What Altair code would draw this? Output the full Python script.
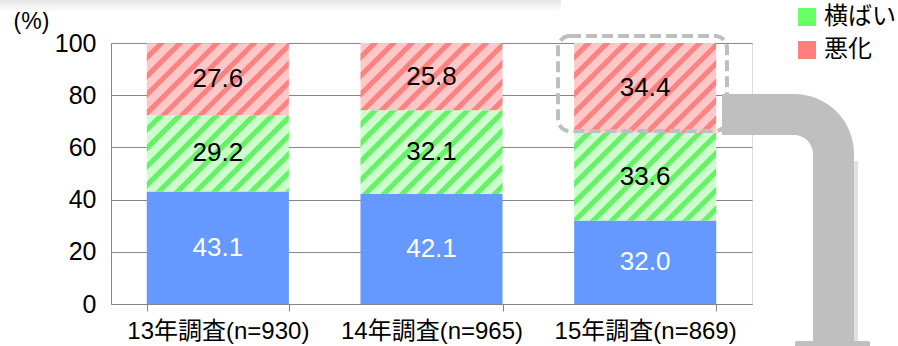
import math
import altair as alt
import pandas as pd

# Survey rounds and shares (%) of each answer
categories = ["13年調査(n=930)", "14年調査(n=965)", "15年調査(n=869)"]
series = ["改善", "横ばい", "悪化"]
improved = [43.1, 42.1, 32.0]
flat = [29.2, 32.1, 33.6]
worse = [27.6, 25.8, 34.4]
y_ticks = [0, 20, 40, 60, 80, 100]

# Styling
FONT = "Liberation Sans, Arial, Noto Sans CJK JP"
GRAY = "#868686"
BLUE = "#6699FF"
GREEN_LIGHT, GREEN_DARK = "#CCFFCC", "#66F266"
RED_LIGHT, RED_DARK = "#FFC8C8", "#FF8282"
LEGEND_COLORS = [BLUE, "#66FF66", "#FF7F7F"]
DECO = "#BFBFBF"

W, H = 641, 261
PAD = {"left": 111, "top": 43, "right": 146, "bottom": 42}
P_INNER = 0.335
P_OUTER = P_INNER / 2
STEP = W / (len(categories) - P_INNER + 2 * P_OUTER)
BAR_W = STEP * (1 - P_INNER)
STRIPE = 18.5  # horizontal period of the diagonal hatching, px

rows = []
for i, cat in enumerate(categories):
    base = 0.0
    for name, vals in zip(series, [improved, flat, worse]):
        v = vals[i]
        rows.append({"cat": cat, "series": name, "v": v,
                     "y0": base, "y1": base + v, "mid": base + v / 2})
        base += v
df = pd.DataFrame(rows)


def hatch(light, dark, value):
    """Diagonal '/' stripes as a hard-stop linear gradient for one segment."""
    w = BAR_W
    h = value / 100 * H
    s = (w + h) / (w * w + h * h)
    n = (w + h) / STRIPE
    stops = []
    k = 0
    while k < n:
        for off, col in [(k + 0.02, light), (k + 0.56, light),
                         (k + 0.62, dark), (k + 0.94, dark)]:
            o = min(off / n, 1.0)
            stops.append(alt.GradientStop(offset=o, color=col))
        k += 1
    return alt.LinearGradient(gradient="linear", stops=stops,
                              x1=0, y1=0, x2=s * w, y2=s * h)


x_enc = alt.X("cat:N", sort=categories, title=None,
              scale=alt.Scale(paddingInner=P_INNER, paddingOuter=P_OUTER),
              axis=alt.Axis(labelAngle=0, labelFontSize=24, labelPadding=8,
                            labelLimit=0,
                            tickBand="extent", ticks=True, tickSize=7,
                            tickColor=GRAY, domainColor=GRAY, labelColor="#000",
                            labelFont=FONT))
y_scale = alt.Scale(domain=[0, 100], nice=False)
y_enc = alt.Y("y0:Q", scale=y_scale,
              axis=alt.Axis(values=y_ticks, ticks=False, labelPadding=15,
                            labelFontSize=25, labelFont=FONT, labelColor="#000",
                            domainColor=GRAY, gridColor=GRAY,
                            title="(%)", titleAngle=0, titleX=-80, titleY=-22,
                            titleAlign="center", titleBaseline="middle",
                            titleFontSize=23, titleFontWeight="normal",
                            titleFont=FONT, titleColor="#000"))

base = alt.Chart(df).encode(x=x_enc)

# Solid bottom segments; also carries the colour legend
solid = base.transform_filter(alt.datum.series == "改善").mark_bar().encode(
    y=y_enc, y2="y1:Q",
    color=alt.Color("series:N",
                    scale=alt.Scale(domain=series, range=LEGEND_COLORS),
                    legend=alt.Legend(values=["横ばい", "悪化"], title=None,
                                      orient="none", legendX=684, legendY=-38,
                                      symbolType="square", symbolSize=324,
                                      symbolStrokeWidth=0, labelFontSize=24,
                                      labelFont=FONT, labelColor="#000",
                                      labelOffset=5, rowPadding=9)))

# Hatched segments, one layer each so every stripe keeps a 45° angle
hatched = []
for rec in df[df["series"] != "改善"].to_dict("records"):
    if rec["series"] == "横ばい":
        light, dark = GREEN_LIGHT, GREEN_DARK
    else:
        light, dark = RED_LIGHT, RED_DARK
    hatched.append(
        base.transform_filter((alt.datum.cat == rec["cat"]) & (alt.datum.series == rec["series"]))
        .mark_bar(fill=hatch(light, dark, rec["v"]))
        .encode(y=alt.Y("y0:Q", scale=y_scale), y2="y1:Q")
    )

labels = base.mark_text(fontSize=26, font=FONT).encode(
    y=alt.Y("mid:Q", scale=y_scale),
    text=alt.Text("v:Q", format=".1f"),
    color=alt.condition(alt.datum.series == "改善", alt.value("white"), alt.value("black")),
)

one = alt.Chart(pd.DataFrame({"k": [0]}))

# Decorative box edge at the top of the slide
top_box = one.mark_rect(
    cornerRadius=6,
    fill=alt.LinearGradient(gradient="linear", x1=0, y1=0, x2=0, y2=1, stops=[
        alt.GradientStop(offset=0, color="#b0b0b0"),
        alt.GradientStop(offset=0.55, color="#bdbdbd"),
        alt.GradientStop(offset=0.7, color="#e6e6e6"),
        alt.GradientStop(offset=1, color="#ffffff")])
).encode(x=alt.value(-130), x2=alt.value(450), y=alt.value(-70), y2=alt.value(-31))

# Bent pipe leading from the highlighted segment
pipe_shadow = one.mark_rect(color="#a8a8a8", opacity=0.35).encode(
    x=alt.value(742), x2=alt.value(747), y=alt.value(118), y2=alt.value(300))
pipe_h = one.mark_rect(color=DECO).encode(
    x=alt.value(611), x2=alt.value(684), y=alt.value(51), y2=alt.value(92))
pipe_arc = one.mark_arc(color=DECO, radius=60, radius2=19, theta=0,
                        theta2=math.pi / 2).encode(x=alt.value(683), y=alt.value(111))
pipe_v = one.mark_rect(color=DECO).encode(
    x=alt.value(702), x2=alt.value(743), y=alt.value(110), y2=alt.value(310))
pipe_base = one.mark_rect(color=DECO, cornerRadius=2).encode(
    x=alt.value(684), x2=alt.value(759), y=alt.value(298), y2=alt.value(310))

# Dashed highlight around the latest "悪化" share
highlight = one.mark_rect(filled=False, stroke=DECO, strokeWidth=4,
                          strokeDash=[11, 5], cornerRadius=12).encode(
    x=alt.value(447), x2=alt.value(616), y=alt.value(-7), y2=alt.value(88))

chart = alt.layer(
    solid, *hatched, labels, top_box,
    pipe_shadow, pipe_h, pipe_arc, pipe_v, pipe_base, highlight,
).properties(
    width=W, height=H,
    autosize=alt.AutoSizeParams(type="none"),
    padding=PAD,
).configure_view(stroke=GRAY, strokeWidth=1).configure(background="white")

chart.save("out.html", embed_options={"renderer": "svg", "actions": False})
